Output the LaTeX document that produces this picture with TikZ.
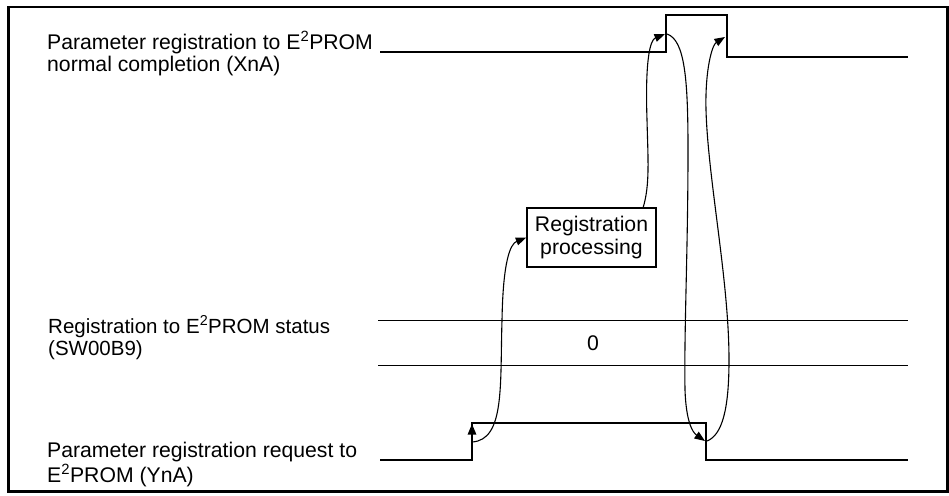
\documentclass[tikz,border=0pt]{standalone}
\usepackage{fontspec}
\setmainfont{Liberation Sans}
\usetikzlibrary{arrows.meta}
\begin{document}
\begin{tikzpicture}[x=1pt,y=-1pt,
  lbl/.style={anchor=base west,inner sep=0pt,font=\fontsize{21.2}{24}\selectfont},
  slbl/.style={anchor=base west,inner sep=0pt,font=\fontsize{20.5}{23}\selectfont},
  wave/.style={line width=1.6pt,line join=miter},
  flow/.style={line width=1.1pt,-{Triangle[length=10.5pt,width=8pt]}},
  procbox/.style={draw,line width=1.4pt,minimum width=129pt,minimum height=59pt,inner sep=0pt,align=center,font=\fontsize{21.2}{23}\selectfont}]
\useasboundingbox (0,0) rectangle (949,495);
% frame
\draw[line width=2.6pt] (8.5,7) rectangle (947.5,491.5);

% labels
\node[lbl] (l1a) at (47,49) {Parameter registration to E\textsuperscript{2}PROM};
\node[lbl] (l1b) at (47,71) {normal completion (XnA)};
\node[slbl] (l2a) at (48,333) {Registration to E\textsuperscript{2}PROM status};
\node[slbl] (l2b) at (48,355) {(SW00B9)};
\node[lbl] (l3a) at (47,457) {Parameter registration request to};
\node[lbl] (l3b) at (47,482) {E\textsuperscript{2}PROM (YnA)};

% XnA waveform
\coordinate (xr) at (666,15);
\coordinate (xf) at (727,15);
\draw[wave] (380,52) -- (666,52) -- (xr) -- (xf) -- (727,57) -- (908,57);

% status lines
\draw[wave] (378,320.5) -- (908,320.5);
\draw[wave] (378,365.5) -- (908,365.5);
\node[font=\fontsize{21.2}{23}\selectfont] (zero) at (593,343) {0};

% YnA waveform
\draw[wave] (380,460) -- (472,460) -- (472,423) -- (706,423) -- (706,460) -- (908,460);
\coordinate (yedge) at (472,445);
\coordinate (ytip) at (472,424);
\draw[line width=1.2pt,-{Triangle[length=10.5pt,width=8.5pt]}] (yedge) -- (ytip);

% processing box
\node[procbox] (proc) at (591.5,237.5) {Registration\\processing};

% connectors
\coordinate (yr) at (472,442);
\draw[flow] (yr) .. controls (505,440) and (500,385) .. (502,320)
  .. controls (503,262) and (510,244) .. (proc.west);
\coordinate (pt) at (643,208);
\coordinate (xrt) at (665,34);
\draw[flow] (pt) .. controls (650,185) and (648,160) .. (647,120)
  .. controls (645,60) and (650,40) .. (xrt);
\coordinate (xrs) at (667,34);
\coordinate (yft) at (705,441);
\draw[flow] (xrs) .. controls (685,40) and (688,80) .. (688,150)
  .. controls (688,250) and (684,330) .. (685,390)
  .. controls (686,420) and (692,432) .. (yft);
\coordinate (yfs) at (707,441);
\coordinate (xft) at (725,37);
\draw[flow] (yfs) .. controls (722,435) and (729,410) .. (729,360)
  .. controls (729,280) and (708,180) .. (706,110)
  .. controls (705,70) and (712,45) .. (xft);
\end{tikzpicture}
\end{document}
